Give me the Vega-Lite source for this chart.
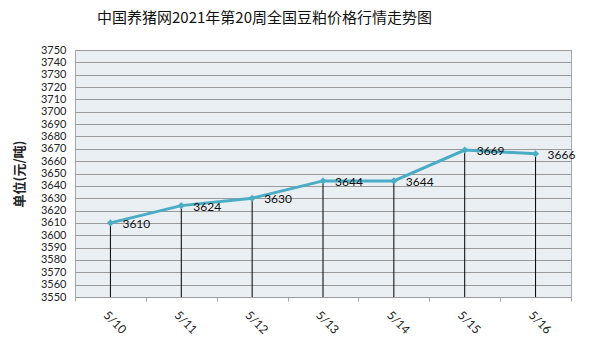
{
  "$schema": "https://vega.github.io/schema/vega-lite/v6.json",
  "width": 496,
  "height": 247,
  "autosize": {"type": "none"},
  "padding": {"left": 75, "top": 50, "right": 29, "bottom": 63},
  "background": "white",
  "title": {
    "text": "中国养猪网2021年第20周全国豆粕价格行情走势图",
    "anchor": "start",
    "frame": "group",
    "dx": 22,
    "offset": 18,
    "font": "Noto Sans CJK SC",
    "fontSize": 15,
    "fontWeight": "normal",
    "color": "#111111"
  },
  "config": {
    "view": {"fill": "#e9eff3", "stroke": "#a6a6a6", "strokeWidth": 1}
  },
  "data": {
    "values": [
      {"date": "5/10", "price": 3610},
      {"date": "5/11", "price": 3624},
      {"date": "5/12", "price": 3630},
      {"date": "5/13", "price": 3644},
      {"date": "5/14", "price": 3644},
      {"date": "5/15", "price": 3669},
      {"date": "5/16", "price": 3666}
    ]
  },
  "encoding": {
    "x": {
      "field": "date",
      "type": "ordinal",
      "sort": null,
      "bandPosition": 0.5,
      "scale": {"type": "band", "paddingInner": 0, "paddingOuter": 0},
      "axis": {
        "title": null,
        "labelAngle": 45,
        "labelAlign": "center",
        "labelBaseline": "middle",
        "labelPadding": 21,
        "labelOffset": 4,
        "labelFont": "Lato",
        "labelFontSize": 12,
        "labelColor": "#222222",
        "domain": false,
        "ticks": true,
        "tickBand": "extent",
        "tickColor": "#a6a6a6",
        "tickSize": 4,
        "grid": false
      }
    },
    "y": {
      "field": "price",
      "type": "quantitative",
      "scale": {"domain": [3550, 3750], "nice": false, "zero": false},
      "axis": {
        "title": "单位(元/吨)",
        "titleFont": "Noto Sans CJK SC",
        "titleFontSize": 13,
        "titleFontWeight": "bold",
        "titleColor": "#222222",
        "titlePadding": 14,
        "values": [3550,3560,3570,3580,3590,3600,3610,3620,3630,3640,3650,3660,3670,3680,3690,3700,3710,3720,3730,3740,3750],
        "format": "d",
        "labelOverlap": false,
        "labelFont": "Lato",
        "labelFontSize": 11,
        "labelColor": "#222222",
        "labelPadding": 9,
        "domain": false,
        "ticks": false,
        "grid": true,
        "gridColor": "#9a9a9a",
        "gridWidth": 1
      }
    }
  },
  "layer": [
    {
      "mark": {"type": "rule", "color": "#000000", "strokeWidth": 1},
      "encoding": {
        "y2": {"datum": 3550}
      }
    },
    {
      "mark": {"type": "line", "color": "#4bacc6", "strokeWidth": 3}
    },
    {
      "mark": {"type": "point", "shape": "diamond", "filled": true, "color": "#4bacc6", "size": 50, "opacity": 1}
    },
    {
      "mark": {"type": "text", "align": "left", "baseline": "middle", "dx": 12, "dy": 1, "font": "Lato", "fontSize": 12, "color": "#111111"},
      "encoding": {
        "text": {"field": "price", "type": "quantitative", "format": "d"}
      }
    }
  ]
}
